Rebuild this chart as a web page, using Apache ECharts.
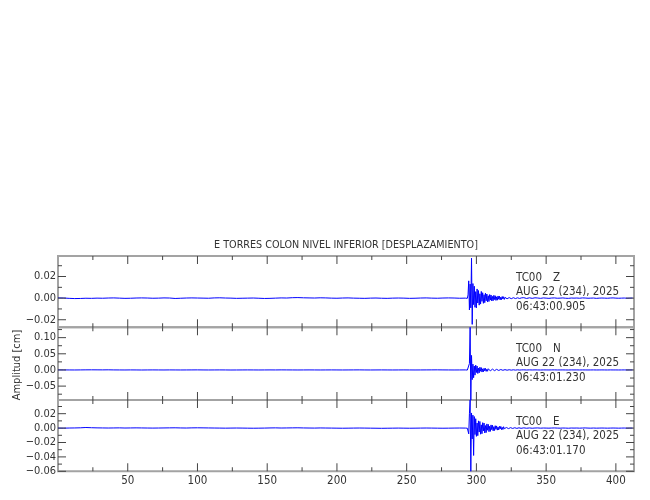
<!DOCTYPE html>
<html><head><meta charset="utf-8">
<script src="https://cdn.jsdelivr.net/npm/echarts@6/dist/echarts.min.js"></script>
<style>html,body{margin:0;padding:0;background:#fff}#c{width:650px;height:500px}</style>
</head><body><div id="c"></div>
<script>
// ---------- data ----------
const titleText = 'E TORRES COLON NIVEL INFERIOR [DESPLAZAMIENTO]';
const yAxisName = 'Amplitud [cm]';
const station = 'TC00';
const components = ['Z', 'N', 'E'];
const dateLine = 'AUG 22 (234), 2025';
const startTimes = ['06:43:00.905', '06:43:01.230', '06:43:01.170'];

const xMin = 0, xMax = 413;
const xMajorTicks = [50, 100, 150, 200, 250, 300, 350, 400];
const xMinorTicks = [25, 75, 125, 175, 225, 275, 325, 375];

const yMins = [-0.027, -0.093, -0.060];
const yMaxs = [0.039, 0.132, 0.039];
const yMajorTicks = [[-0.02, 0, 0.02], [-0.05, 0, 0.05, 0.10], [-0.06, -0.04, -0.02, 0, 0.02]];
const yMinorTicks = [[-0.01, 0.01, 0.03], [-0.075, -0.025, 0.025, 0.075, 0.125], [-0.05, -0.03, -0.01, 0.01, 0.03]];

// sampling of the three trace segments (seconds)
const preStart = 0, preStep = 4;
const evStart = 293, evStep = 0.5;
const postStart = 334, postStep = 2;

const zPre = [0.0002,0.0001,-0.0002,-0.0004,-0.0003,-0.0001,-0.0002,0.0000,-0.0001,0.0001,
 0.0002,0.0000,-0.0002,-0.0001,0.0001,0.0002,0.0001,-0.0001,0.0000,0.0002,
 0.0001,-0.0003,-0.0001,0.0001,0.0002,0.0001,0.0000,-0.0001,0.0002,0.0003,
 0.0001,0.0000,-0.0002,-0.0001,0.0000,0.0001,-0.0001,-0.0003,-0.0002,0.0000,
 0.0002,0.0001,0.0004,0.0005,0.0003,0.0002,0.0001,0.0003,0.0002,0.0000,
 -0.0001,0.0001,0.0002,0.0000,-0.0001,-0.0002,0.0000,0.0001,-0.0001,-0.0002,
 0.0000,0.0001,0.0000,-0.0002,-0.0001,0.0001,0.0002,0.0000,-0.0001,0.0001,
 0.0002,0.0001,-0.0001,0.0000];
const zEvent = [0.0002,-0.0002,0.0030,0.0160,-0.0110,0.0130,-0.0090,0.0370,-0.0243,0.0135,
 -0.0060,0.0110,-0.0085,0.0060,-0.0090,0.0085,-0.0045,0.0070,-0.0065,0.0040,
 -0.0055,0.0062,-0.0030,0.0050,-0.0048,0.0032,-0.0042,0.0046,-0.0025,0.0038,
 -0.0036,0.0022,-0.0031,0.0033,-0.0018,0.0029,-0.0026,0.0016,-0.0024,0.0026,
 -0.0013,0.0022,-0.0021,0.0012,-0.0019,0.0020,-0.0010,0.0018,-0.0016,0.0009,
 -0.0014,0.0015,-0.0008,0.0013,-0.0012,0.0007,-0.0011,0.0012,-0.0006,0.0010,
 -0.0010,0.0005,-0.0009,0.0010,-0.0005,0.0008,-0.0008,0.0004,-0.0007,0.0008,
 -0.0004,0.0007,-0.0006,0.0003,-0.0006,0.0006,-0.0003,0.0005,-0.0005,0.0003,
 -0.0004];
const zPost = [0.0004,-0.0003,0.0003,-0.0002,0.0003,0.0001,-0.0002,0.0002,0.0000,-0.0002,
 0.0001,0.0002,-0.0001,0.0000,0.0002,-0.0001,-0.0002,0.0001,0.0000,0.0001,
 -0.0001,0.0002,0.0001,-0.0001,0.0000,0.0001,-0.0002,0.0000,0.0001,0.0000,
 -0.0001,0.0001,0.0002,0.0000,-0.0001,0.0000,0.0001,-0.0001,0.0000,0.0001];

const nPre = [0.0002,0.0001,0.0000,-0.0001,0.0001,0.0003,0.0004,0.0003,0.0002,0.0004,
 0.0001,0.0000,-0.0001,0.0001,0.0000,-0.0002,0.0000,0.0001,0.0000,-0.0001,
 0.0001,0.0000,-0.0001,0.0000,0.0001,0.0002,0.0000,-0.0001,0.0000,0.0001,
 0.0000,-0.0002,-0.0001,0.0000,0.0001,0.0000,-0.0001,0.0000,0.0001,0.0000,
 0.0002,0.0001,0.0000,-0.0001,0.0000,0.0001,0.0000,-0.0001,0.0000,0.0001,
 0.0000,-0.0001,0.0000,0.0001,0.0002,0.0000,-0.0001,0.0000,0.0001,0.0000,
 -0.0001,0.0000,0.0001,0.0000,-0.0001,0.0000,0.0001,0.0002,0.0003,0.0001,
 0.0000,-0.0001,0.0000,0.0001];
const nEvent = [0.0002,-0.0003,0.0010,-0.0050,0.0200,0.1320,-0.0930,0.0450,-0.0300,0.0180,
 -0.0240,0.0120,-0.0160,0.0150,-0.0080,0.0120,-0.0110,0.0060,-0.0090,0.0085,
 -0.0040,0.0072,-0.0065,0.0035,-0.0058,0.0052,-0.0028,0.0050,-0.0044,0.0022,
 -0.0040,0.0038,-0.0018,0.0034,-0.0030,0.0015,-0.0028,0.0026,-0.0012,0.0024,
 -0.0022,0.0010,-0.0020,0.0019,-0.0009,0.0017,-0.0016,0.0008,-0.0014,0.0013,
 -0.0007,0.0012,-0.0011,0.0006,-0.0010,0.0010,-0.0005,0.0009,-0.0008,0.0005,
 -0.0008,0.0007,-0.0004,0.0007,-0.0006,0.0004,-0.0006,0.0005,-0.0003,0.0005,
 -0.0005,0.0003,-0.0004,0.0004,-0.0002,0.0003,-0.0003,0.0002,-0.0003,0.0002,
 -0.0002];
const nPost = [0.0003,-0.0002,0.0002,-0.0001,0.0002,0.0000,-0.0002,0.0001,0.0000,-0.0001,
 0.0001,0.0002,-0.0001,0.0000,0.0001,-0.0001,-0.0002,0.0001,0.0000,0.0001,
 -0.0001,0.0001,0.0000,-0.0001,0.0000,0.0001,-0.0001,0.0000,0.0001,0.0000,
 -0.0001,0.0001,0.0000,0.0000,-0.0001,0.0000,0.0001,-0.0001,0.0000,0.0001];

const ePre = [0.0000,-0.0001,0.0001,0.0002,0.0004,0.0008,0.0005,0.0003,0.0002,0.0001,
 0.0002,0.0003,0.0001,0.0002,0.0003,0.0002,0.0001,0.0000,0.0001,0.0002,
 0.0003,0.0004,0.0002,0.0001,0.0003,0.0004,0.0003,0.0002,0.0001,0.0000,
 -0.0001,0.0000,0.0001,0.0000,-0.0001,-0.0002,-0.0001,0.0000,0.0002,0.0003,
 0.0001,0.0002,0.0003,0.0004,0.0002,0.0001,0.0000,0.0002,0.0001,0.0000,
 -0.0001,-0.0002,-0.0001,0.0000,0.0001,0.0000,-0.0001,-0.0002,-0.0003,-0.0002,
 -0.0001,0.0000,-0.0001,-0.0002,-0.0001,0.0000,0.0001,0.0000,-0.0001,-0.0002,
 -0.0001,0.0000,0.0001,0.0000];
const eEvent = [0.0002,-0.0002,0.0020,-0.0080,0.0200,0.0390,-0.0600,0.0210,-0.0150,0.0180,
 -0.0380,0.0160,-0.0090,0.0130,-0.0115,0.0070,-0.0105,0.0100,-0.0055,0.0092,
 -0.0085,0.0045,-0.0078,0.0075,-0.0040,0.0070,-0.0068,0.0035,-0.0062,0.0058,
 -0.0030,0.0052,-0.0050,0.0026,-0.0046,0.0044,-0.0022,0.0040,-0.0038,0.0019,
 -0.0034,0.0033,-0.0016,0.0030,-0.0028,0.0014,-0.0025,0.0025,-0.0012,0.0023,
 -0.0021,0.0010,-0.0020,0.0019,-0.0009,0.0017,-0.0016,0.0008,-0.0015,0.0015,
 -0.0007,0.0014,-0.0013,0.0006,-0.0012,0.0012,-0.0005,0.0011,-0.0010,0.0005,
 -0.0009,0.0009,-0.0004,0.0008,-0.0008,0.0004,-0.0007,0.0007,-0.0003,0.0006,
 -0.0005];
const ePost = [0.0003,-0.0002,0.0002,-0.0002,0.0001,0.0002,-0.0001,0.0001,0.0000,-0.0001,
 0.0001,0.0002,0.0000,-0.0001,0.0001,0.0000,-0.0002,0.0001,0.0000,0.0001,
 -0.0001,0.0001,0.0002,0.0000,-0.0001,0.0001,-0.0001,0.0000,0.0001,0.0000,
 -0.0001,0.0000,0.0001,0.0000,-0.0001,0.0000,0.0001,-0.0001,0.0000,0.0000];

// ---------- build ----------
function buildTrace(pre, ev, post) {
  const out = [];
  pre.forEach((v, i) => out.push([preStart + i * preStep, v]));
  ev.forEach((v, i) => out.push([evStart + i * evStep, v]));
  post.forEach((v, i) => out.push([postStart + i * postStep, v]));
  return out;
}
const traces = [buildTrace(zPre, zEvent, zPost), buildTrace(nPre, nEvent, nPost), buildTrace(ePre, eEvent, ePost)];

const FONT = "'Liberation Sans Narrow','DejaVu Sans Condensed','Liberation Sans',sans-serif";
const TXT = '#333';
const FRAME = '#a3a3a3';
const TICK = '#444';
const L = 58, R = 16;
const gridTops = [256, 327.3, 400];
const gridHeights = [71.3, 72.7, 71.3];
const MAJOR_LEN = 8, MINOR_LEN = 4;

const fmtY = v => (v < -1e-9 ? '\u2212' : '') + Math.abs(v).toFixed(2);

// tick marks drawn as thin rectangular symbols placed by the axes' scales
function tickSeries(g, data, size, offset) {
  return {type: 'scatter', xAxisIndex: g, yAxisIndex: g, data: data, symbol: 'rect',
    symbolSize: size, symbolOffset: offset, clip: false, silent: true, z: 4,
    itemStyle: {color: TICK, opacity: 1}, emphasis: {disabled: true}};
}

const grids = [], xAxes = [], yAxes = [], series = [], graphics = [];
for (let g = 0; g < 3; g++) {
  grids.push({left: L, right: R, top: gridTops[g], height: gridHeights[g], show: true,
    borderColor: FRAME, borderWidth: 2, containLabel: false});
  xAxes.push({
    type: 'value', gridIndex: g, position: 'bottom', min: xMin, max: xMax,
    axisLine: {show: false, onZero: false}, splitLine: {show: false}, axisTick: {show: false},
    axisLabel: g === 2 ? {show: true, customValues: xMajorTicks, margin: 4, color: TXT, fontFamily: FONT, fontSize: 11.5,
      formatter: v => String(v)} : {show: false}
  });
  yAxes.push({
    type: 'value', gridIndex: g, position: 'left', min: yMins[g], max: yMaxs[g],
    axisLine: {show: false, onZero: false}, splitLine: {show: false}, axisTick: {show: false},
    axisLabel: {show: true, customValues: yMajorTicks[g], margin: 2, color: TXT, fontFamily: FONT, fontSize: 11,
      formatter: fmtY}
  });
  series.push({type: 'line', xAxisIndex: g, yAxisIndex: g, data: traces[g],
    showSymbol: false, symbol: 'none', clip: true, sampling: null, silent: true,
    lineStyle: {color: '#0000ff', width: 1}});
  // x ticks: bottom and top edges
  series.push(tickSeries(g, xMajorTicks.map(v => [v, yMins[g]]), [1, MAJOR_LEN], [0, -MAJOR_LEN / 2]));
  series.push(tickSeries(g, xMinorTicks.map(v => [v, yMins[g]]), [1, MINOR_LEN], [0, -MINOR_LEN / 2]));
  series.push(tickSeries(g, xMajorTicks.map(v => [v, yMaxs[g]]), [1, MAJOR_LEN], [0, MAJOR_LEN / 2]));
  series.push(tickSeries(g, xMinorTicks.map(v => [v, yMaxs[g]]), [1, MINOR_LEN], [0, MINOR_LEN / 2]));
  // y ticks: left and right edges
  series.push(tickSeries(g, yMajorTicks[g].map(v => [xMin, v]), [MAJOR_LEN, 1], [MAJOR_LEN / 2, 0]));
  series.push(tickSeries(g, yMinorTicks[g].map(v => [xMin, v]), [MINOR_LEN, 1], [MINOR_LEN / 2, 0]));
  series.push(tickSeries(g, yMajorTicks[g].map(v => [xMax, v]), [MAJOR_LEN, 1], [-MAJOR_LEN / 2, 0]));
  series.push(tickSeries(g, yMinorTicks[g].map(v => [xMax, v]), [MINOR_LEN, 1], [-MINOR_LEN / 2, 0]));

  const t0 = gridTops[g];
  const f = '11.5px ' + FONT;
  graphics.push({type: 'text', x: 516, y: t0 + 21.6, z: 10, style: {text: station, font: f, fill: TXT, verticalAlign: 'middle'}});
  graphics.push({type: 'text', x: 553, y: t0 + 21.6, z: 10, style: {text: components[g], font: f, fill: TXT, verticalAlign: 'middle'}});
  graphics.push({type: 'text', x: 516, y: t0 + 36.2, z: 10, style: {text: dateLine, font: f, fill: TXT, verticalAlign: 'middle'}});
  graphics.push({type: 'text', x: 516, y: t0 + 51, z: 10, style: {text: startTimes[g], font: f, fill: TXT, verticalAlign: 'middle'}});
}
graphics.push({type: 'text', x: 346, y: 245.5, style: {text: titleText, font: '10.7px ' + FONT, fill: TXT, align: 'center', verticalAlign: 'middle'}});
graphics.push({type: 'text', x: 17, y: 365, rotation: Math.PI / 2, style: {text: yAxisName, font: '11px ' + FONT, fill: TXT, align: 'center', verticalAlign: 'middle'}});

const chart = echarts.init(document.getElementById('c'), null, {renderer: 'canvas'});
chart.setOption({animation: false, backgroundColor: '#fff', grid: grids, xAxis: xAxes, yAxis: yAxes, series: series, graphic: graphics});
</script></body></html>
